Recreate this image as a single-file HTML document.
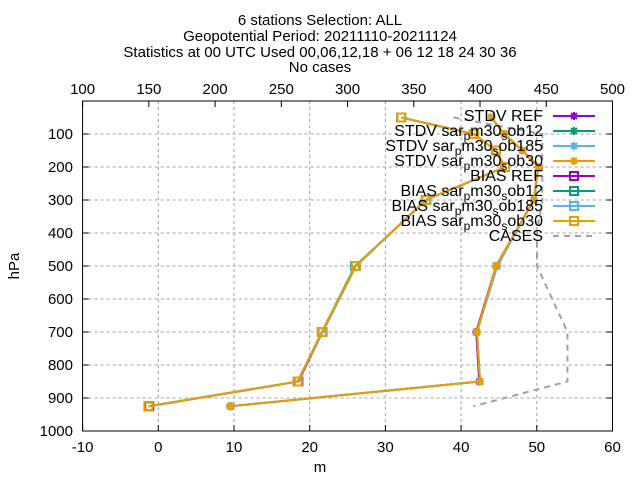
<!DOCTYPE html>
<html><head><meta charset="utf-8"><style>
body{margin:0;background:#fff}
svg{font-family:"Liberation Sans",sans-serif;display:block}
</style></head><body>
<svg id="c" width="640" height="480" viewBox="0 0 640 480">
<g font-size="15" text-anchor="middle">
<text x="320" y="25">6 stations Selection: ALL</text>
<text x="320" y="41">Geopotential  Period: 20211110-20211124</text>
<text x="320" y="57">Statistics at 00 UTC  Used 00,06,12,18 + 06 12 18 24 30 36</text>
<text x="320" y="72">No cases</text>
</g>
<g id="grid"></g>
<g id="ticks" font-size="15"></g>
<text x="320" y="472" font-size="15" text-anchor="middle">m</text>
<text transform="translate(19,266) rotate(-90)" font-size="15" text-anchor="middle">hPa</text>
<g id="series"></g>
<g id="legend" font-size="16"></g>
<rect x="82.6" y="101" width="529.9" height="330" fill="none" stroke="#000"/>
</svg>
<script>
const levels=[50,100,150,200,300,500,700,850,925];
const stdvRef=[44.0,45.7,48.1,50.2,49.6,44.6,42.0,42.4,9.5];
const stdv12=[44.0,45.7,48.1,50.2,49.6,44.7,42.1,42.5,9.5];
const stdv185=[44.0,45.7,48.1,50.2,49.6,44.8,42.1,42.5,9.6];
const stdv30=[44.0,45.7,48.1,50.2,49.6,44.6,42.1,42.5,9.5];
const biasRef=[32.1,41.7,44.6,45.8,35.3,26.1,21.7,18.5,-1.2];
const bias12=[32.1,41.7,44.6,45.8,35.4,26.0,21.6,18.4,-1.3];
const bias185=[32.1,41.7,44.6,45.8,35.4,26.1,21.7,18.4,-1.3];
const bias30=[32.1,41.7,44.6,45.8,35.3,26.1,21.6,18.4,-1.3];
const casesLevels=[50,100,150,200,300,400,500,700,850,925];
const cases=[380,447,447,447,447,443,443,466,466,395];
const xTicks=[-10,0,10,20,30,40,50,60];
const x2Ticks=[100,150,200,250,300,350,400,450,500];
const yTicks=[100,200,300,400,500,600,700,800,900,1000];
const NS="http://www.w3.org/2000/svg";
const L=82.6,R=612.5,T=101,B=431;
const xs=v=>L+(v+10)/70*(R-L);
const x2=v=>L+(v-100)/400*(R-L);
const ys=p=>T+p/1000*(B-T);
function mk(t,a,p){const e=document.createElementNS(NS,t);for(const k in a)e.setAttribute(k,a[k]);p.appendChild(e);return e;}
const g=document.getElementById('grid'),tk=document.getElementById('ticks');
xTicks.forEach(v=>{const x=xs(v);
 if(v>-10&&v<60){const l=mk('line',{x1:x,x2:x,y1:T,y2:B,stroke:'#a0a0a0','stroke-dasharray':'3,3'},g);
 
 }
 mk('line',{x1:x,x2:x,y1:B,y2:B-6,stroke:'#000'},tk);
 const t=mk('text',{x:x,y:452,'text-anchor':'middle'},tk);t.textContent=v;
 
 });
x2Ticks.forEach(v=>{const x=x2(v);
 mk('line',{x1:x,x2:x,y1:T,y2:T+6,stroke:'#000'},tk);
 const t=mk('text',{x:x,y:94,'text-anchor':'middle'},tk);t.textContent=v;
 
 });
yTicks.forEach(v=>{const y=ys(v);
 if(v<1000){const l=mk('line',{x1:L,x2:R,y1:y,y2:y,stroke:'#a0a0a0','stroke-dasharray':'3,3'},g);
 
 }
 mk('line',{x1:L,x2:L+6,y1:y,y2:y,stroke:'#000'},tk);
 mk('line',{x1:R,x2:R-6,y1:y,y2:y,stroke:'#000'},tk);
 const t=mk('text',{x:73,y:y+5,'text-anchor':'end'},tk);t.textContent=v;
 
 });
const S=document.getElementById('series');
function star(x,y,c,p){mk('path',{d:`M${x-4},${y}H${x+4}M${x},${y-4}V${y+4}M${x-3},${y-3}L${x+3},${y+3}M${x-3},${y+3}L${x+3},${y-3}`,stroke:c,'stroke-width':2,fill:'none'},p);}
function sq(x,y,c,p){mk('rect',{x:x-4,y:y-4,width:8,height:8,stroke:c,'stroke-width':2,fill:'none'},p);}
function series(vals,c,mark,name){const gg=mk('g',{},S);
 
 
 mk('polyline',{points:vals.map((v,i)=>xs(v)+','+ys(levels[i])).join(' '),stroke:c,'stroke-width':2,fill:'none'},gg);
 vals.forEach((v,i)=>mark(xs(v),ys(levels[i]),c,gg));}
const cs=mk('polyline',{points:cases.map((v,i)=>x2(v)+','+ys(casesLevels[i])).join(' '),stroke:'#a0a0a0','stroke-width':2,'stroke-dasharray':'6,5',fill:'none'},S);


const cols=['#9400d3','#009e73','#56b4e9','#e69f00'];
series(stdvRef,cols[0],star,'stdv-ref-line');series(stdv12,cols[1],star,'stdv-ob12-line');series(stdv185,cols[2],star,'stdv-ob185-line');series(stdv30,cols[3],star,'stdv-ob30-line');
series(biasRef,cols[0],sq,'bias-ref-line');series(bias12,cols[1],sq,'bias-ob12-line');series(bias185,cols[2],sq,'bias-ob185-line');series(bias30,cols[3],sq,'bias-ob30-line');
const Lg=document.getElementById('legend');
const ent=[['STDV','REF',0,star],['STDV','12',1,star],['STDV','185',2,star],['STDV','30',3,star],['BIAS','REF',0,sq],['BIAS','12',1,sq],['BIAS','185',2,sq],['BIAS','30',3,sq]];
ent.forEach((e,i)=>{const y=116+i*15;
 const t=mk('text',{x:543,y:y+5,'text-anchor':'end'},Lg);
 
 
 if(e[1]==='REF')t.textContent=e[0]+' REF';
 else t.innerHTML=e[0]+' sar<tspan dy="4" font-size="12">p</tspan><tspan dy="-4">m30</tspan><tspan dy="4" font-size="12">s</tspan><tspan dy="-4">ob'+e[1]+'</tspan>';
 mk('line',{x1:553,x2:595,y1:y,y2:y,stroke:cols[e[2]],'stroke-width':2},Lg);
 e[3](574,y,cols[e[2]],Lg);});
const ct=mk('text',{x:543,y:241,'text-anchor':'end'},Lg);ct.textContent='CASES';


mk('line',{x1:553,x2:595,y1:236,y2:236,stroke:'#a0a0a0','stroke-width':2,'stroke-dasharray':'6,5'},Lg);
</script>
</body></html>
